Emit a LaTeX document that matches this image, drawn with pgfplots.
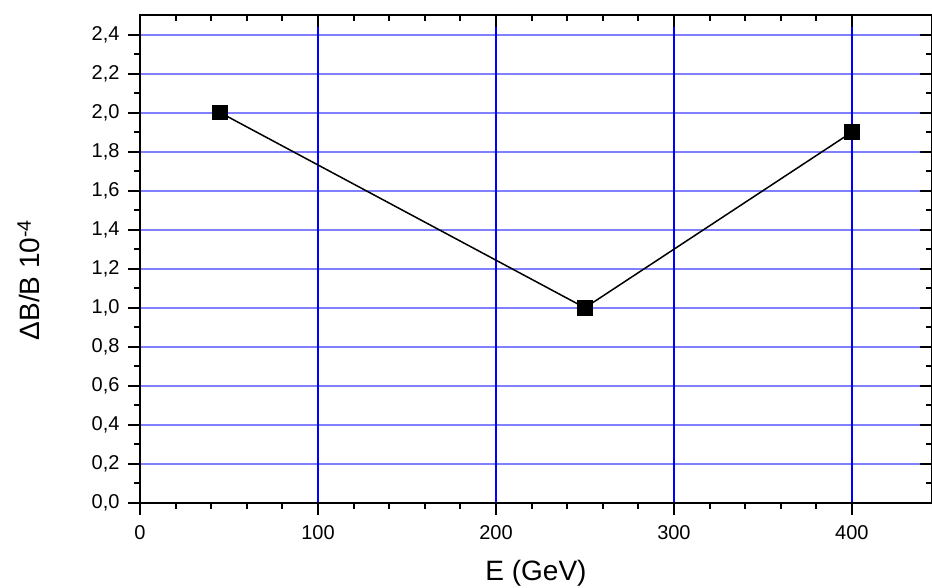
\documentclass[border=0pt]{standalone}
\usepackage{pgfplots}
\pgfplotsset{compat=1.18}
\usetikzlibrary{calc}
\usepackage{fontspec}
\setmainfont{Liberation Sans}
\definecolor{gridlight}{RGB}{128,128,255}
\definecolor{gridblue}{RGB}{0,0,255}
\begin{document}
\begin{tikzpicture}
\pgfplotsset{
  common/.style={
    width=792pt, height=488pt, scale only axis,
    xmin=0, xmax=445, ymin=0, ymax=2.5,
    xtick={0,100,200,300,400},
    ytick={0,0.2,0.4,0.6,0.8,1.0,1.2,1.4,1.6,1.8,2.0,2.2,2.4},
    minor x tick num=4, minor y tick num=1,
    major tick length=12pt, minor tick length=6pt,
    axis line style={line width=2pt},
    every tick/.style={line width=2pt,black},
  },
  gridonly/.style={
    axis line style={draw=none},
    major tick length=0pt, minor tick length=0pt,
    xticklabels={}, yticklabels={},
  }
}
% horizontal grid
\begin{axis}[common, gridonly,
  ymajorgrids,
  major grid style={draw=gridlight, line width=2pt},
]
\end{axis}
% vertical grid
\begin{axis}[common, gridonly,
  xmajorgrids,
  major grid style={draw=gridblue, line width=1.2pt},
]
\end{axis}
% main axis: bottom/left ticks, labels, data
\begin{axis}[common,
  xtick pos=left, ytick pos=left,
  tick align=outside,
  /pgf/number format/assume math mode=true,
  yticklabel style={/pgf/number format/fixed, /pgf/number format/fixed zerofill, /pgf/number format/precision=1, /pgf/number format/use comma, xshift=-5pt},
  xticklabel style={/pgf/number format/fixed, /pgf/number format/precision=0, yshift=-7pt},
  tick label style={font=\fontsize{20}{24}\selectfont},
  xlabel={E (GeV)},
  ylabel={ΔB/B 10\textsuperscript{-4}},
  label style={font=\fontsize{28}{33}\selectfont},
  x label style={at={(axis description cs:0.5,-0.158)}, anchor=base},
  y label style={at={(axis description cs:-0.1263,0.457)}, anchor=base},
  clip=false,
]
\addplot[black, line width=1.5pt, mark=square*, mark size=7pt] coordinates {
  (45,2.0) (250,1.0) (400,1.9)
};
\coordinate (sw) at (rel axis cs:0,0);
\coordinate (ne) at (rel axis cs:1,1);
\end{axis}
% top/right inward ticks
\begin{axis}[common,
  xtick pos=right, ytick pos=right,
  tick align=inside,
  xticklabels={}, yticklabels={},
]
\end{axis}
\pgfresetboundingbox
\path[use as bounding box] ($(sw)+(-140pt,-85pt)$) rectangle ($(ne)+(0pt,15pt)$);
\end{tikzpicture}
\end{document}
